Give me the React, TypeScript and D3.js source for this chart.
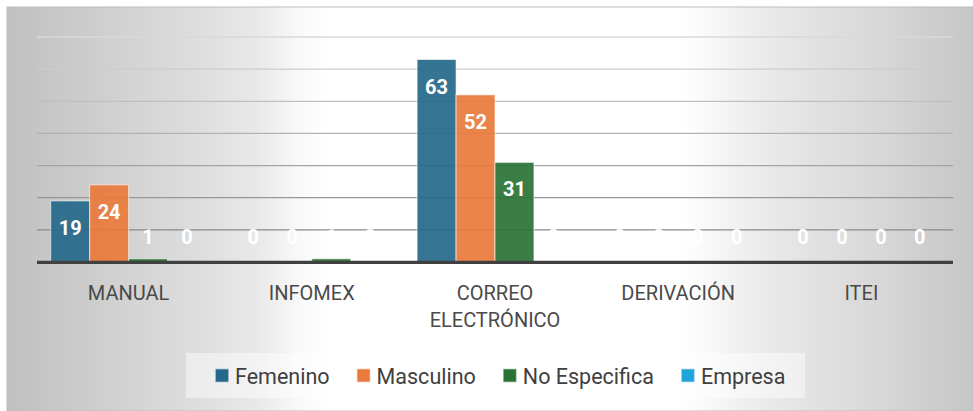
import React, { useEffect, useRef } from "react";
import * as d3 from "d3";

// data
const categories = ["MANUAL", "INFOMEX", "CORREO ELECTRÓNICO", "DERIVACIÓN", "ITEI"];
const seriesNames = ["Femenino", "Masculino", "No Especifica", "Empresa"];
const femenino = [19, 0, 63, 0, 0];
const masculino = [24, 0, 52, 0, 0];
const noEspecifica = [1, 1, 31, 0, 0];
const empresa = [0, 0, 0, 0, 0];
const seriesColors = ["#24688a", "#e87a3c", "#2a7335", "#1ea4d9"];
const yTicks = [10, 20, 30, 40, 50, 60, 70];

const W = 973, H = 411;

export default function App() {
    const ref = useRef<SVGSVGElement>(null);

    useEffect(() => {
        const svg = d3.select(ref.current);
        svg.selectAll("*").remove();

        const values = [femenino, masculino, noEspecifica, empresa];
        const margin = { top: 37, left: 37, right: 953, bottom: 262 };

        // background
        const defs = svg.append("defs");
        const grad = defs.append("linearGradient")
            .attr("id", "bg")
            .attr("x1", "0").attr("x2", "1").attr("y1", "0").attr("y2", "0");
        [[0, "#c0c0c0"], [0.1, "#cfcfcf"], [0.2, "#dedede"], [0.26, "#e9e9e9"],
         [0.3, "#f8f8f8"], [0.33, "#ffffff"], [0.7, "#ffffff"], [0.76, "#f0f0f0"],
         [0.82, "#e4e4e4"], [0.9, "#d8d8d8"], [1, "#c6c6c6"]].forEach(([o, c]) => {
            grad.append("stop").attr("offset", o as number).attr("stop-color", c as string);
        });

        svg.append("rect")
            .attr("x", 7).attr("y", 7)
            .attr("width", W - 7).attr("height", H - 7)
            .attr("fill", "url(#bg)")
            .attr("stroke", "#bdbdbd")
            .attr("stroke-width", 1);

        //scales
        const x = d3.scaleBand<string>()
            .domain(categories)
            .range([margin.left, margin.right])
            .padding(0);
        const xs = d3.scaleBand<string>()
            .domain(seriesNames)
            .range([13.7, x.bandwidth() - 13.7])
            .padding(0);
        const y = d3.scaleLinear()
            .domain([0, 70])
            .range([margin.bottom, margin.top]);

        //gridlines, lighter towards the top
        const gridColor = d3.scaleLinear<string>()
            .domain([10, 70])
            .range(["#8a8a8a", "#d9d9d9"]);
        svg.append("g")
            .selectAll("line")
            .data(yTicks)
            .enter()
            .append("line")
            .attr("x1", margin.left)
            .attr("x2", margin.right)
            .attr("y1", d => y(d))
            .attr("y2", d => y(d))
            .attr("stroke", d => gridColor(d))
            .attr("stroke-width", 1.3);

        //bars
        const groups = svg.append("g")
            .selectAll("g")
            .data(categories)
            .enter()
            .append("g")
            .attr("transform", d => `translate(${x(d)},0)`);

        groups.selectAll("rect")
            .data((d, i) => seriesNames.map((s, j) => ({ s, j, v: values[j][i] })))
            .enter()
            .append("rect")
            .attr("x", d => xs(d.s)!)
            .attr("y", d => y(d.v))
            .attr("width", xs.bandwidth())
            .attr("height", d => y(0) - y(d.v))
            .attr("fill", d => seriesColors[d.j])
            .attr("fill-opacity", 0.92)
            .attr("stroke", d => (d.v > 0 ? "#ffffff" : "none"))
            .attr("stroke-opacity", 0.6)
            .attr("stroke-width", 1);

        //axis line
        svg.append("line")
            .attr("x1", margin.left)
            .attr("x2", margin.right)
            .attr("y1", y(0) + 0.3)
            .attr("y2", y(0) + 0.3)
            .attr("stroke", "#404040")
            .attr("stroke-width", 3.3);

        //value labels
        groups.selectAll("text")
            .data((d, i) => seriesNames.map((s, j) => ({ s, j, v: values[j][i] })))
            .enter()
            .append("text")
            .attr("x", d => xs(d.s)! + xs.bandwidth() / 2)
            .attr("y", d => Math.min(y(d.v) + 27, y(0) - 25))
            .attr("text-anchor", "middle")
            .attr("dominant-baseline", "central")
            .attr("font-family", "Roboto, sans-serif")
            .attr("font-weight", "bold")
            .attr("font-size", 20)
            .attr("fill", "#ffffff")
            .text(d => d.v);

        //category labels
        const cat = svg.append("g")
            .selectAll("text")
            .data(categories)
            .enter()
            .append("text")
            .attr("x", d => x(d)! + x.bandwidth() / 2)
            .attr("y", 300)
            .attr("text-anchor", "middle")
            .attr("font-family", "Roboto, sans-serif")
            .attr("font-size", 20)
            .attr("fill", "#4a4a4a");
        cat.each(function (d) {
            const t = d3.select(this);
            const words = d.split(" ");
            t.text(d);
            const node = this as SVGTextElement;
            if (node.getComputedTextLength() > x.bandwidth() * 0.9 && words.length > 1) {
                t.text(null);
                words.forEach((w, k) => {
                    t.append("tspan")
                        .attr("x", x(d)! + x.bandwidth() / 2)
                        .attr("dy", k === 0 ? 0 : 27)
                        .text(w);
                });
            }
        });

        //legend
        const legend = svg.append("g");
        legend.append("rect")
            .attr("x", 186).attr("y", 353)
            .attr("width", 619).attr("height", 45)
            .attr("fill", "#ffffff")
            .attr("fill-opacity", 0.45);

        const items = legend.selectAll("g")
            .data(seriesNames)
            .enter()
            .append("g");
        items.append("rect")
            .attr("width", 12).attr("height", 12)
            .attr("y", 369.5)
            .attr("fill", (d, i) => seriesColors[i])
            .attr("stroke", (d, i) => seriesColors[i])
            .attr("stroke-opacity", 0.5)
            .attr("stroke-width", 1.5);
        items.append("text")
            .attr("x", 19)
            .attr("y", 376)
            .attr("dominant-baseline", "central")
            .attr("font-family", "Roboto, sans-serif")
            .attr("font-size", 21.5)
            .attr("fill", "#404040")
            .text(d => d);

        let cx = 216;
        items.each(function () {
            const g = d3.select(this);
            g.attr("transform", `translate(${cx},0)`);
            const tw = (g.select("text").node() as SVGTextElement).getComputedTextLength();
            cx += 19 + tw + 28;
        });
    }, []);

    return (
        <div style={{ position: "fixed", left: 0, top: 0 }}>
            <svg ref={ref} width={W} height={H} style={{ display: "block", background: "#ffffff" }} />
        </div>
    );
}
